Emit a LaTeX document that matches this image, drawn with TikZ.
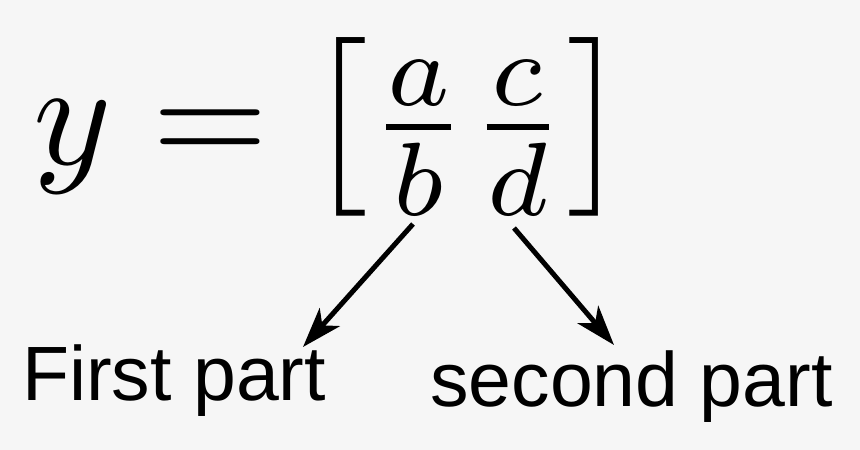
\documentclass[tikz,border=0pt]{standalone}
\usepackage{graphicx}
\usepackage{fontspec}
\newfontfamily\partfont{Liberation Sans}
\usetikzlibrary{arrows.meta}
\definecolor{bggray}{HTML}{F6F6F6}
\newcommand{\bigeqn}[1]{\scalebox{14.9}{\fontsize{10}{12}\selectfont #1}}

\begin{document}
\begin{tikzpicture}[
    x=1pt, y=-1pt,
    eqn/.style={anchor=base west, inner sep=0pt},
    parttext/.style={anchor=base west, inner sep=0pt, font=\partfont\fontsize{77}{80}\selectfont},
    arrow/.style={-{Stealth[length=40pt,width=27pt,inset=11pt]}, line width=5pt}
]
    \fill[bggray] (0,0) rectangle (860,450);
    \useasboundingbox (0,0) rectangle (860,450);

    \node[eqn] (lhs) at (33,164) {\bigeqn{$y=$}};
    \node[eqn] (vec) at (306,164) {\bigeqn{$\left[\frac{a}{b}\frac{c}{d}\right]$}};

    \node[parttext] (first) at (22,400) {First part};
    \node[parttext] (second) at (430,406) {second part};

    \coordinate (b-foot) at (413,224);
    \coordinate (d-foot) at (514,228);
    \coordinate (first-tip) at (303,347);
    \coordinate (second-tip) at (614,345);

    \draw[arrow] (b-foot) -- (first-tip);
    \draw[arrow] (d-foot) -- (second-tip);
\end{tikzpicture}
\end{document}
